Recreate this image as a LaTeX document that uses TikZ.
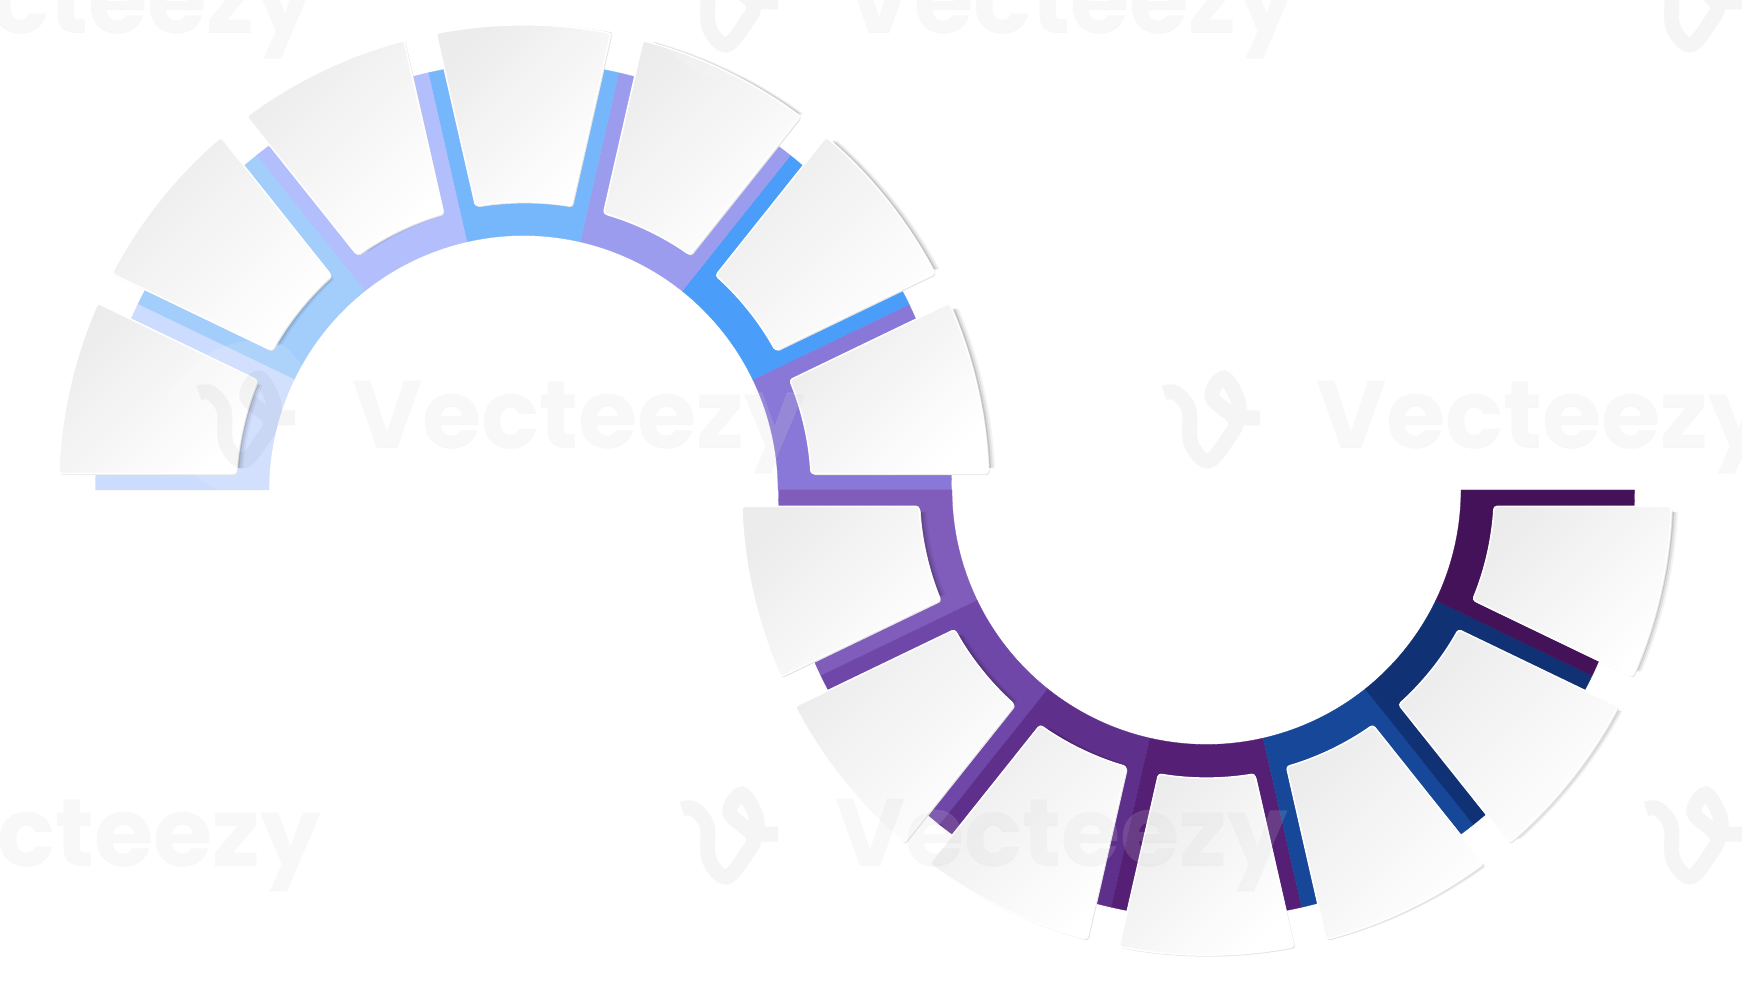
\documentclass[tikz,border=0pt]{standalone}
\usepackage{fontspec}
\newfontfamily\markfont{Poppins}
\definecolor{segA}{HTML}{CCDCFE}
\definecolor{segB}{HTML}{A3CDFB}
\definecolor{segC}{HTML}{B3BEFC}
\definecolor{segD}{HTML}{76B7FB}
\definecolor{segE}{HTML}{9C9CEE}
\definecolor{segF}{HTML}{4A9DF8}
\definecolor{segG}{HTML}{8A78D8}
\definecolor{segH}{HTML}{805CBB}
\definecolor{segI}{HTML}{6F47A8}
\definecolor{segJ}{HTML}{5F2F8C}
\definecolor{segK}{HTML}{541F75}
\definecolor{segL}{HTML}{164799}
\definecolor{segM}{HTML}{103275}
\definecolor{segN}{HTML}{431258}
\definecolor{cardgrey}{HTML}{ECECEC}
\definecolor{cardrim}{HTML}{E4E4E4}
\newcommand\ringin{254.5pt}
\newcommand\ringout{428pt}
\newcommand\cardin{288pt}
\newcommand\cardout{465pt}
\tikzset{
  cardshape/.style={rounded corners=3pt,insert path={
    (\a+2.03:\cardout) arc[start angle=\a+2.03,end angle=\b-2.03,radius=\cardout]
    -- (\b-3.28:\cardin) arc[start angle=\b-3.28,end angle=\a+3.28,radius=\cardin] -- cycle}},
  shadowshape/.style={insert path={
    (\a+2.71:\cardout) arc[start angle=\a+2.71,end angle=\b-2.71,radius=\cardout]
    -- (\b-4.38:\cardin) arc[start angle=\b-4.38,end angle=\a+4.38,radius=\cardin] -- cycle}},
  marktext/.style={inner sep=0pt,anchor=base west,font=\markfont\bfseries\fontsize{96}{96}\selectfont}
}
% one coloured piece of the ring with its card on top
\newcommand\ringseg[2]{
  \pgfmathsetmacro\a{#1}
  \pgfmathsetmacro\b{#1+180/7}
  \filldraw[#2,line width=0.3pt] (\a:\ringin) arc[start angle=\a,end angle=\b,radius=\ringin]
    -- (\b:\ringout) arc[start angle=\b,end angle=\a,radius=\ringout] -- cycle;
}
\newcommand\cardseg[1]{
  \pgfmathsetmacro\a{#1}
  \pgfmathsetmacro\b{#1+180/7}
  \fill[black,opacity=0.05,xshift=7pt,shadowshape];
  \fill[black,opacity=0.08,xshift=5pt,shadowshape];
  \fill[black,opacity=0.12,xshift=3pt,shadowshape];
  \fill[cardrim,xshift=1.5pt,yshift=-1.5pt,cardshape];
  \shadedraw[top color=cardgrey,bottom color=white,shading angle=45,draw=white,line width=1.5pt,cardshape];
}
\newcommand\marklogo[2]{
  \begin{scope}[shift={(#1,#2)}]
    \fill[white,opacity=0.13] plot[smooth cycle,tension=0.8] coordinates
      {(15,76) (58,52) (75,0) (60,-50) (3,-77) (-52,-55) (-76,-2) (-52,50)};
    \draw[black,opacity=0.04,line width=15pt] plot[smooth,tension=0.6] coordinates
      {(-44,23) (-32,23) (-19,6) (-17,-27) (0,-45) (19,-24) (27,-4) (4,19) (16,38) (30,16) (30,-2)} -- (52,-2);
  \end{scope}
}
\begin{document}
\begin{tikzpicture}[x=1pt,y=1pt]
  \useasboundingbox (0,0) rectangle (1742,980);
  \begin{scope}[shift={(523.5,490)}]
    \foreach \k/\col in {0/segG,1/segF,2/segE,3/segD,4/segC,5/segB,6/segA}
      {\ringseg{\k*180/7}{\col}}
  \end{scope}
  \begin{scope}[shift={(1206.5,490)}]
    \foreach \k/\col in {0/segH,1/segI,2/segJ,3/segK,4/segL,5/segM,6/segN}
      {\ringseg{180+\k*180/7}{\col}}
  \end{scope}
  \begin{scope}[shift={(523.5,490)}]
    \foreach \k in {0,...,6}
      {\cardseg{\k*180/7}}
  \end{scope}
  \begin{scope}[shift={(1206.5,490)}]
    \foreach \k in {0,...,6}
      {\cardseg{180+\k*180/7}}
  \end{scope}
  % stock site mark over everything
  \begin{scope}
    \clip (0,0) rectangle (1742,980);
    \foreach \x/\y in {726/980,1690/980,243/564,1208/564,726/148,1690/148}
      {\marklogo{\x}{\y}}
    \foreach \x/\y/\name in {-138/948/marka,844/948/markb,352/533/markc,1316/533/markd,-132/116/marke,835/116/markf}{
      \node[marktext,text=black,text opacity=0.03] (\name s) at (\x,\y-2) {Vecteezy};
      \node[marktext,text=white,text opacity=0.14] (\name) at (\x,\y) {Vecteezy};
    }
  \end{scope}
\end{tikzpicture}
\end{document}
